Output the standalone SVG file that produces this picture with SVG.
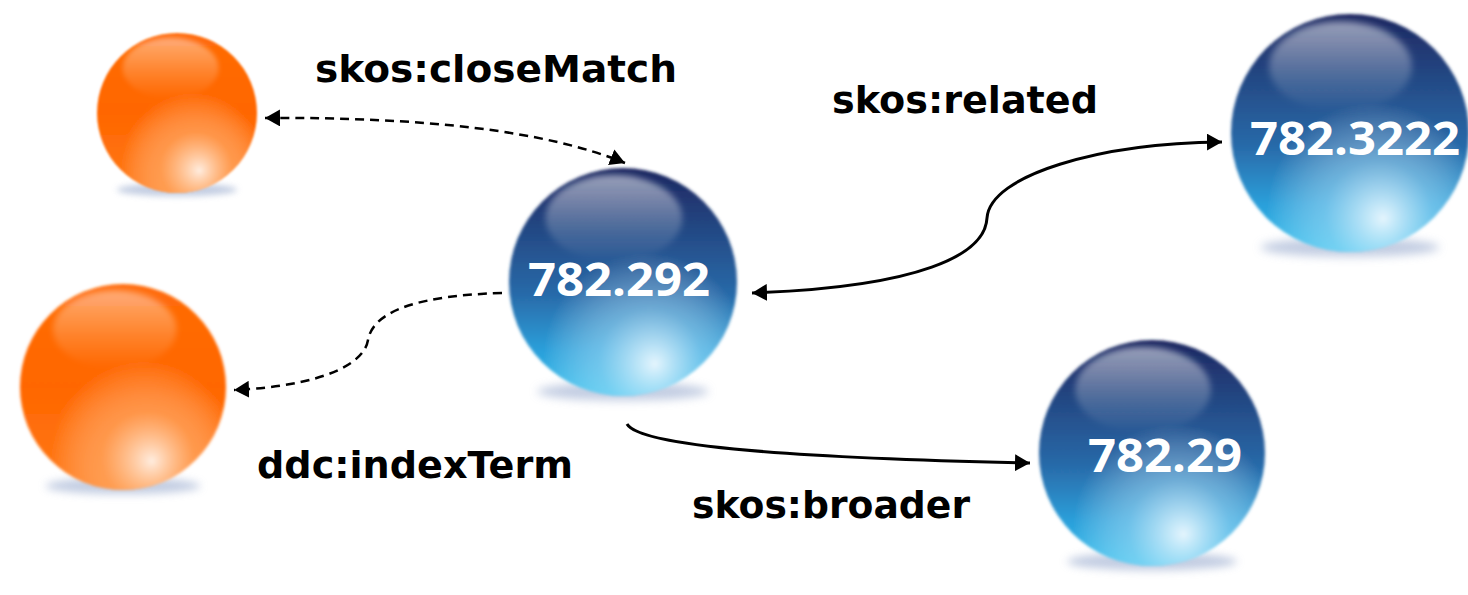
<svg xmlns="http://www.w3.org/2000/svg" xmlns:xlink="http://www.w3.org/1999/xlink" width="1468" height="595" viewBox="0 0 1468 595">
<style>
.lbl{font-family:"DejaVu Sans","Liberation Sans",sans-serif;font-weight:bold;font-size:38px;fill:#000}
.num{font-family:"Open Sans","DejaVu Sans",sans-serif;font-weight:700;font-size:47px;fill:#fff}
.solid{fill:none;stroke:#000;stroke-width:3}
.dash{fill:none;stroke:#000;stroke-width:2.5;stroke-dasharray:9 6}
</style>
<defs>
<filter id="soft" x="-10%" y="-10%" width="120%" height="120%"><feGaussianBlur stdDeviation="1.3"/></filter>
<filter id="hiblur" x="-20%" y="-30%" width="140%" height="160%"><feGaussianBlur stdDeviation="3"/></filter>
<filter id="shblur" x="-30%" y="-100%" width="160%" height="300%"><feGaussianBlur stdDeviation="4"/></filter>
<linearGradient id="blueBase" x1="0" y1="0" x2="0" y2="1">
<stop offset="0" stop-color="#1d2660"/>
<stop offset="0.3" stop-color="#244c88"/>
<stop offset="0.55" stop-color="#2869a8"/>
<stop offset="0.8" stop-color="#2a9fda"/>
<stop offset="1" stop-color="#36c0ee"/>
</linearGradient>
<linearGradient id="orangeBase" x1="0" y1="0" x2="0" y2="1">
<stop offset="0" stop-color="#ff6c08"/>
<stop offset="0.5" stop-color="#ff6600"/>
<stop offset="1" stop-color="#ff7a18"/>
</linearGradient>
<radialGradient id="glowBlue" cx="0.6" cy="0.82" r="0.45" fx="0.64" fy="0.86">
<stop offset="0" stop-color="#eef9ff" stop-opacity="0.95"/>
<stop offset="0.5" stop-color="#bfe8fa" stop-opacity="0.45"/>
<stop offset="1" stop-color="#ffffff" stop-opacity="0"/>
</radialGradient>
<radialGradient id="glowOrange" cx="0.6" cy="0.82" r="0.45" fx="0.64" fy="0.86">
<stop offset="0" stop-color="#fff3ea" stop-opacity="0.95"/>
<stop offset="0.5" stop-color="#ffc898" stop-opacity="0.45"/>
<stop offset="1" stop-color="#ffffff" stop-opacity="0"/>
</radialGradient>
<linearGradient id="topHi" x1="0" y1="0" x2="0" y2="1">
<stop offset="0" stop-color="#ffffff" stop-opacity="0.55"/>
<stop offset="0.6" stop-color="#ffffff" stop-opacity="0.2"/>
<stop offset="1" stop-color="#ffffff" stop-opacity="0"/>
</linearGradient>
<g id="blueSphere">
<ellipse cx="0" cy="96" rx="75" ry="8" fill="#a9b8d6" opacity="0.7" filter="url(#shblur)"/>
<g filter="url(#soft)">
<circle r="100" fill="url(#blueBase)"/>
<circle r="100" fill="url(#glowBlue)"/>
</g>
<ellipse cx="-8" cy="-56" rx="60" ry="38" fill="url(#topHi)" filter="url(#hiblur)"/>
</g>
<g id="orangeSphere">
<ellipse cx="0" cy="96" rx="75" ry="8" fill="#a9b8d6" opacity="0.7" filter="url(#shblur)"/>
<g filter="url(#soft)">
<circle r="100" fill="url(#orangeBase)"/>
<circle r="100" fill="url(#glowOrange)"/>
</g>
<ellipse cx="-8" cy="-56" rx="60" ry="38" fill="url(#topHi)" opacity="0.8" filter="url(#hiblur)"/>
</g>
<marker id="ah" viewBox="0 0 15 17" refX="15" refY="8.5" markerWidth="15" markerHeight="17" markerUnits="userSpaceOnUse" orient="auto-start-reverse">
<path d="M0,0 L15,8.5 L0,17 z" fill="#000"/>
</marker>
</defs>
<rect width="1468" height="595" fill="#fff"/>

<g id="orange1"><use xlink:href="#orangeSphere" transform="translate(177,113) scale(0.8)"/></g>
<g id="orange2"><use xlink:href="#orangeSphere" transform="translate(123,387) scale(1.03)"/></g>
<g id="n782_292"><use xlink:href="#blueSphere" transform="translate(623,282) scale(1.14)"/>
<text class="num" x="528" y="296" textLength="182" lengthAdjust="spacingAndGlyphs">782.292</text></g>
<g id="n782_3222"><use xlink:href="#blueSphere" transform="translate(1350,133) scale(1.19)"/>
<text class="num" x="1250" y="155" textLength="210" lengthAdjust="spacingAndGlyphs">782.3222</text></g>
<g id="n782_29"><use xlink:href="#blueSphere" transform="translate(1152,453) scale(1.13)"/>
<text class="num" x="1088" y="472" textLength="154" lengthAdjust="spacingAndGlyphs">782.29</text></g>

<g id="connectors">
<path class="dash" d="M265 118 C420 117 545 130 625 163" marker-start="url(#ah)" marker-end="url(#ah)"/>
<path class="dash" d="M502 293 C400 296 372 318 368 340 C364 365 320 386 234 390" marker-end="url(#ah)"/>
<path class="solid" d="M752 293 C920 287 985 255 987 218 C990 175 1100 143 1222 142" marker-start="url(#ah)" marker-end="url(#ah)"/>
<path class="solid" d="M627 424 C640 447 800 458 1030 463" marker-end="url(#ah)"/>
</g>

<g id="labels">
<text class="lbl" x="315" y="82" textLength="362" lengthAdjust="spacingAndGlyphs">skos:closeMatch</text>
<text class="lbl" x="832" y="113" textLength="266" lengthAdjust="spacingAndGlyphs">skos:related</text>
<text class="lbl" x="257" y="478" textLength="316" lengthAdjust="spacingAndGlyphs">ddc:indexTerm</text>
<text class="lbl" x="692" y="518" textLength="278" lengthAdjust="spacingAndGlyphs">skos:broader</text>
</g>
</svg>
